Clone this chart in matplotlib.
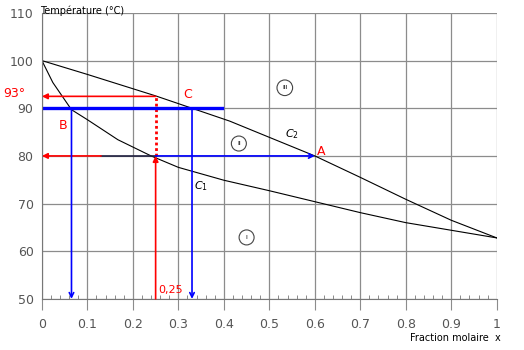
import matplotlib
matplotlib.use('Agg')
import matplotlib.pyplot as plt
from matplotlib.ticker import MultipleLocator

# === DATA ===
# C1 : lower curve (liquid)
x_c1 = [0, 0.024, 0.065, 0.10, 0.167, 0.24, 0.30, 0.40, 0.50, 0.60, 0.70, 0.80, 0.90, 1.0]
t_c1 = [100, 95.4, 89.7, 87.6, 83.4, 80.0, 77.6, 74.9, 72.7, 70.4, 68.1, 66.0, 64.4, 62.8]
# C2 : upper curve (vapour)
x_c2 = [0, 0.10, 0.25, 0.33, 0.413, 0.50, 0.60, 0.70, 0.80, 0.90, 1.0]
t_c2 = [100, 97.1, 92.6, 90.0, 87.3, 83.9, 80.0, 75.5, 70.9, 66.5, 62.8]

x_ticks = [0, 0.1, 0.2, 0.3, 0.4, 0.5, 0.6, 0.7, 0.8, 0.9, 1]
x_labels = ["0", "0.1", "0.2", "0.3", "0.4", "0.5", "0.6", "0.7", "0.8", "0.9", "1"]
y_ticks = [50, 60, 70, 80, 90, 100, 110]

# reading points
x_feed = 0.25
t_boil = 92.5
t_op = 90
x_b = 0.065
x_c = 0.33
t_a = 80
x_a = 0.6

red = "#ff0000"
blue = "#0000ff"

fig = plt.figure(figsize=(5.24, 3.5), dpi=100)
ax = fig.add_axes([0.080, 0.146, 0.868, 0.817])

ax.set_xlim(0, 1)
ax.set_ylim(50, 110)
ax.set_xticks(x_ticks)
ax.set_xticklabels(x_labels)
ax.set_yticks(y_ticks)
ax.xaxis.set_minor_locator(MultipleLocator(0.02))
ax.grid(True, which='major', color='#8c8c8c', linewidth=0.9)
ax.tick_params(axis='both', which='major', labelsize=9, labelcolor='#555555',
               color='#8c8c8c')
ax.tick_params(axis='x', which='major', length=8, pad=6)
ax.tick_params(axis='x', which='minor', direction='in', length=3, color='#777777')
ax.tick_params(axis='y', which='major', length=0, pad=6)
for side in ['top', 'right']:
    ax.spines[side].set_visible(False)
for side in ['left', 'bottom']:
    ax.spines[side].set_color('#777777')

# === CURVES ===
ax.plot(x_c1, t_c1, color='black', linewidth=0.8)
ax.plot(x_c2, t_c2, color='black', linewidth=0.8)

# === CONSTRUCTION LINES ===
arrow_red = dict(arrowstyle='-|>', color=red, lw=1.2, mutation_scale=8, shrinkA=0, shrinkB=0)
arrow_blue = dict(arrowstyle='->', color=blue, lw=1.2, mutation_scale=8, shrinkA=0, shrinkB=0)

# 93 degree reading
ax.annotate("", xy=(0, t_boil), xytext=(x_feed, t_boil), arrowprops=arrow_red)
ax.plot([x_feed, x_feed], [t_a, t_boil], color=red, linestyle=(0, (1, 1)), linewidth=2)

# feed composition 0,25
ax.annotate("", xy=(x_feed, t_a), xytext=(x_feed, 50), arrowprops=arrow_red)

# 80 degree line
ax.plot([0.13, x_feed], [t_a, t_a], color='#202040', linewidth=1.2)
ax.annotate("", xy=(0, t_a), xytext=(0.13, t_a), arrowprops=arrow_red)
ax.annotate("", xy=(x_a, t_a), xytext=(x_feed, t_a), arrowprops=arrow_blue)

# 90 degree tie line
ax.plot([0, 0.396], [t_op, t_op], color=blue, linewidth=2.4)
ax.annotate("", xy=(x_b, 50), xytext=(x_b, t_op), arrowprops=arrow_blue)
ax.annotate("", xy=(x_c, 50), xytext=(x_c, t_op), arrowprops=arrow_blue)

# === LABELS ===
ax.text(-0.06, 93.2, "93°", color=red, fontsize=9, ha='center', va='center', clip_on=False)
ax.text(0.046, 86.4, "B", color=red, fontsize=9, ha='center', va='center')
ax.text(0.32, 92.8, "C", color=red, fontsize=9, ha='center', va='center')
ax.text(0.615, 80.9, "A", color=red, fontsize=9, ha='center', va='center')
ax.text(0.255, 50.8, "0,25", color=red, fontsize=8, ha='left', va='bottom')

ax.text(0.55, 84.6, "$C_2$", fontsize=8, ha='center', va='center', style='italic')
ax.text(0.35, 73.6, "$C_1$", fontsize=8, ha='center', va='center', style='italic')

circle = dict(boxstyle='circle,pad=0.8', facecolor='white', edgecolor='#444444', linewidth=0.8)
ax.text(0.534, 94.3, "III", fontsize=4.5, ha='center', va='center', bbox=circle)
ax.text(0.433, 82.6, "II", fontsize=4.5, ha='center', va='center', bbox=circle)
ax.text(0.45, 62.9, "I", fontsize=4.5, ha='center', va='center', bbox=circle)

fig.text(0.076, 0.985, "Température (°C)", fontsize=7, ha='left', va='top')
fig.text(0.955, 0.035, "Fraction molaire  x", fontsize=7, ha='right', va='center')

fig.savefig("out.png", dpi=100)
